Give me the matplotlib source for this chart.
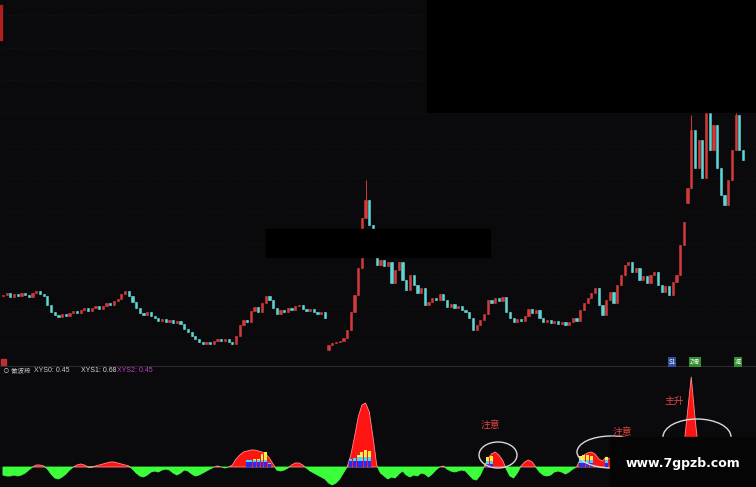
import numpy as np
import matplotlib
matplotlib.use('Agg')
import matplotlib.pyplot as plt
from matplotlib.patches import Rectangle, Ellipse

plt.rcParams['font.family'] = ['Noto Sans CJK SC', 'DejaVu Sans']

# ── Data ─────────────────────────────────────────────────────────────────────
close = [
    10.5, 10.7, 10.3, 10.6, 10.4, 10.7, 10.5, 10.3, 10.7, 10.9, 10.6, 10.4,
    9.5, 8.8, 8.5, 8.3, 8.6, 8.4, 8.7, 8.9, 8.7, 9.0, 9.2, 8.9,
    9.2, 9.4, 9.1, 9.4, 9.7, 9.5, 9.9, 10.1, 10.6, 10.9, 10.4, 9.8,
    9.2, 8.7, 8.5, 8.8, 8.4, 8.2, 7.9, 8.1, 7.8, 8.0, 7.7, 7.9,
    7.6, 7.1, 6.8, 6.4, 6.1, 5.8, 5.6, 5.8, 5.6, 5.9, 6.1, 5.9,
    6.1, 5.8, 5.6, 6.4, 7.5, 8.0, 7.8, 8.9, 9.3, 8.8, 9.7, 10.4,
    10.0, 9.2, 8.6, 9.0, 8.8, 9.2, 9.0, 9.4, 9.5, 9.1, 8.9, 9.1,
    8.8, 8.6, 8.8, 8.2, 5.5, 5.7, 5.8, 5.9, 6.2, 7.0, 8.8, 10.5,
    13.2, 18.2, 20.0, 17.5, 15.2, 13.5, 14.0, 13.4, 13.8, 11.7, 13.0, 13.8,
    12.0, 11.0, 12.5, 11.5, 10.7, 11.2, 9.5, 9.8, 10.2, 10.0, 10.6, 10.0,
    9.3, 9.6, 9.2, 9.4, 9.0, 8.8, 8.2, 7.0, 7.5, 8.0, 8.6, 10.0,
    9.7, 10.2, 9.9, 10.3, 8.8, 8.2, 7.8, 8.1, 7.9, 8.4, 9.1, 8.7,
    9.0, 8.2, 7.8, 8.0, 7.7, 7.9, 7.6, 7.8, 7.5, 7.8, 8.2, 7.9,
    9.0, 9.7, 10.2, 10.7, 11.2, 9.5, 8.5, 10.0, 10.8, 9.7, 11.5, 12.5,
    13.5, 13.8, 12.8, 13.2, 12.0, 12.4, 11.7, 12.5, 12.8, 11.5, 10.8, 11.4,
    10.5, 11.8, 12.5, 15.5, 17.8, 21.2, 27.0, 23.2, 26.0, 22.2, 28.7, 25.0,
    27.5, 23.2, 20.5, 19.5, 22.0, 25.0, 28.5, 25.0, 24.0,
]
first_open = 10.4
gap_open = {88: 5.0, 185: 19.7}          # opening gaps
wick_high = {98: 22.0, 186: 28.5, 190: 29.0, 198: 29.0}

# XYS indicator (above 0 = red, below 0 = green)
xys = [
    -8, -9, -9, -8, -9, -8, -6, -3, 0, 2, 2, 1,
    -2, -7, -11, -12, -10, -7, -3, 0, 2, 3, 2, 0,
    0, 1, 2, 3, 4, 5, 5, 4, 3, 2, 1, -2,
    -6, -9, -10, -8, -5, -4, -5, -3, -2, -3, -6, -8,
    -6, -3, -4, -7, -9, -8, -6, -4, -2, 0, 1, 0,
    -1, 0, 2, 8, 12, 15, 16, 17, 17, 16, 15, 13,
    9, 3, -3, -4, -3, -1, 2, 4, 4, 2, -1, -4,
    -6, -8, -10, -12, -16, -18, -16, -12, -6, 0, 12, 30,
    50, 62, 64, 55, 30, 2, -6, -9, -12, -10, -11, -7,
    -4, -8, -10, -8, -9, -6, -7, -10, -7, -3, 0, 1,
    -2, -4, -5, -4, -3, -4, -8, -12, -13, -8, 0, 8,
    13, 15, 12, 7, -2, -9, -11, -6, 1, 5, 7, 5,
    0, -5, -8, -9, -8, -5, -4, -5, -7, -5, -2, 0,
    8, 12, 14, 15, 13, 8, 6, 10, 8, 2, -3, 2,
    6, 8, 5, 3, 0, -2, -3, -1, 0, 2, 4, 6,
    5, 3, 2, 5, 20, 55, 90, 50, 15, 5, 2, -2,
    -4, -3, -1, 2, 4, 3, 1, -2, -3,
]

# stacked signal blocks
blk_idx    = [66, 67, 68, 69, 70, 71, 72, 94, 95, 96, 97, 98, 99, 131, 132, 156, 157, 158, 159, 163]
blk_blue   = [5, 5, 5, 5, 5, 5, 3, 6, 6, 6, 6, 6, 6, 3, 3, 4, 4, 4, 4, 4]
blk_cyan   = [2, 2, 2, 2, 2, 2, 1, 2, 3, 4, 4, 4, 4, 3, 3, 3, 3, 3, 3, 3]
blk_yellow = [0, 0, 1, 1, 6, 8, 0, 0, 0, 2, 5, 7, 6, 4, 5, 4, 5, 5, 4, 3]

W, H = 756, 487
BG = '#0a0a0c'
UP, DOWN = '#d23a3a', '#5fd6d6'

close = np.array(close)
opens = np.r_[first_open, close[:-1]]
for k, v in gap_open.items():
    opens[k] = v
idx = np.arange(len(close))
hi = np.maximum(opens, close)
lo = np.minimum(opens, close)
for k, v in wick_high.items():
    hi[k] = v

fig = plt.figure(figsize=(W / 100, H / 100), dpi=100)
fig.patch.set_facecolor(BG)

# ── Price panel ──────────────────────────────────────────────────────────────
ax = fig.add_axes([0, 122 / H, 1, 365 / H])
ax.set_facecolor(BG)
ax.set_xlim(-0.8, 203.5)
ax.set_ylim(3.5, 40)
ax.set_yticks(np.arange(5.8, 40, 3.27))
ax.grid(axis='y', color='#18181c', lw=0.6, ls=(0, (1, 2)))
ax.tick_params(length=0, labelleft=False, labelbottom=False)
for s in ax.spines.values():
    s.set_visible(False)

colors = [UP if c >= o else DOWN for o, c in zip(opens, close)]
ax.vlines(idx, lo, hi, colors=colors, lw=0.7, zorder=2)
ax.bar(idx, close - opens, bottom=opens, width=0.6, color=colors,
       edgecolor=colors, lw=0.4, zorder=3)

# ── Indicator panel ──────────────────────────────────────────────────────────
ax2 = fig.add_axes([0, 0, 1, 120 / H])
ax2.set_facecolor(BG)
ax2.set_xlim(-0.8, 203.5)
ax2.set_ylim(-20, 100)
ax2.axis('off')
xys = np.array(xys, dtype=float)
ax2.fill_between(idx, xys, 0, where=xys >= 0, interpolate=True,
                 facecolor='#ff1414', edgecolor='#ff8c8c', lw=0.6, zorder=2)
ax2.fill_between(idx, xys, 0, where=xys <= 0, interpolate=True,
                 facecolor='#3cff3c', edgecolor='#3cff3c', lw=0.6, zorder=2)
b1 = np.array(blk_blue)
b2 = np.array(blk_cyan)
b3 = np.array(blk_yellow)
ax2.bar(blk_idx, b1, width=0.8, color='#2a2aff', zorder=3)
ax2.bar(blk_idx, b2, bottom=b1, width=0.8, color='#40d8ff', zorder=3)
ax2.bar(blk_idx, b3, bottom=b1 + b2, width=0.8, color='#ffee40', zorder=3)

# ── Overlay (pixel coordinates) ──────────────────────────────────────────────
ov = fig.add_axes([0, 0, 1, 1], zorder=10)
ov.set_xlim(0, W)
ov.set_ylim(H, 0)
ov.axis('off')
ov.patch.set_alpha(0)

ov.plot([0, W], [366, 366], color='#2c2c30', lw=0.8)
ov.add_patch(Rectangle((0, 5), 2, 35, color='#b02020'))
ov.add_patch(Rectangle((1, 359), 5, 6, color='#c03030'))

for (cx, cy, w, h) in [(498, 455, 38, 26), (611, 452, 68, 32), (697, 437, 68, 36)]:
    ov.add_patch(Ellipse((cx, cy), w, h, fill=False, ec='#d8d8d8', lw=1.0))

red_txt = dict(color='#e04545', fontsize=7, ha='center', va='center')
ov.text(490, 425, '注意', **red_txt)
ov.text(622, 432, '注意', **red_txt)
ov.text(674, 401, '主升', **red_txt)

hdr = dict(fontsize=5, va='center', ha='left')
lat = ['Liberation Sans Narrow', 'Liberation Sans']
ov.text(3, 371, '⊙ 做波段', color='#c8c8c8', fontsize=4.7, va='center', ha='left')
ov.text(34, 371, 'XYS0: 0.45', color='#c8c8c8', family=lat, **hdr)
ov.text(81, 371, 'XYS1: 0.68', color='#d8d8d8', family=lat, **hdr)
ov.text(117, 371, 'XYS2: 0.45', color='#c040c8', family=lat, **hdr)

tag = dict(fontsize=4.5, va='center', ha='center', color='white')
ov.text(672, 362, 'S1', bbox=dict(fc='#3050a0', ec='none', pad=0.6), **tag)
ov.text(695, 362, 'Z增', bbox=dict(fc='#309030', ec='none', pad=0.6), **tag)
ov.text(738, 362, '减', bbox=dict(fc='#309030', ec='none', pad=0.6), **tag)

# redaction boxes + watermark
ov.add_patch(Rectangle((427, 0), W - 427, 112, color='#000000'))
ov.add_patch(Rectangle((266, 229), 224, 28, color='#000000'))
ov.add_patch(Rectangle((610, 437), W - 610, H - 437, color='#050505'))
ov.text(683, 463, 'www.7gpzb.com', color='white', fontsize=9,
        fontweight='bold', ha='center', va='center', family='DejaVu Sans')

fig.savefig('out.png', dpi=100, facecolor=fig.get_facecolor())
